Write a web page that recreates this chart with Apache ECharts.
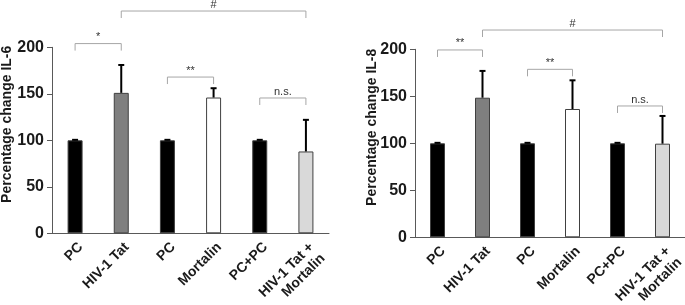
<!DOCTYPE html>
<html>
<head>
<meta charset="utf-8">
<script src="https://cdn.jsdelivr.net/npm/echarts@6/dist/echarts.min.js"></script>
<style>
  html, body { margin: 0; padding: 0; background: #fff; }
  #chart { width: 685px; height: 305px; }
</style>
</head>
<body>
<div id="chart"></div>
<script>
// categories, shared by both panels
var categories = ['PC', 'HIV-1 Tat', 'PC', 'Mortalin', 'PC+PC', 'HIV-1 Tat +\nMortalin'];
var barColors = ['#000000', '#7f7f7f', '#000000', '#ffffff', '#000000', '#d9d9d9'];

// IL-6 panel
var il6Values = [100, 151, 100, 146, 100, 88];
var il6Err = [0.5, 30, 0.5, 10, 0.5, 34];
// [from, to, level, label]
var il6Brackets = [[1, 5, 239, '#'], [0, 1, 204, '*'], [2, 3, 168, '**'], [4, 5, 145.5, 'n.s.']];

// IL-8 panel
var il8Values = [100, 148.5, 100, 136.5, 100, 99.6];
var il8Err = [0.5, 28.5, 0.5, 30.5, 0.5, 29.5];
var il8Brackets = [[1, 5, 220.5, '#'], [0, 1, 199.3, '**'], [2, 3, 178.7, '**'], [4, 5, 139.7, 'n.s.']];

var yTicks = [0, 50, 100, 150, 200];

var fontFam = 'Arial, Liberation Sans, sans-serif';

function barData(values) {
  return values.map(function (v, i) {
    return { value: v, itemStyle: { color: barColors[i] } };
  });
}

function errData(values, errs) {
  return values.map(function (v, i) { return [i, v, v + errs[i]]; });
}

function renderErr(params, api) {
  var base = api.coord([api.value(0), api.value(1)]);
  var top = api.coord([api.value(0), api.value(2)]);
  return {
    type: 'group',
    children: [
      { type: 'line', shape: { x1: base[0], y1: base[1], x2: top[0], y2: top[1] },
        style: { stroke: '#000', lineWidth: 2 } },
      { type: 'line', shape: { x1: top[0] - 3, y1: top[1], x2: top[0] + 3, y2: top[1] },
        style: { stroke: '#000', lineWidth: 2 } }
    ]
  };
}

function makeBracketRender(list) {
  return function (params, api) {
    var p1 = api.coord([api.value(0), api.value(2)]);
    var p2 = api.coord([api.value(1), api.value(2)]);
    var drop = 7;
    var st = { stroke: '#a6a6a6', lineWidth: 1, fill: null };
    return {
      type: 'group',
      children: [
        { type: 'polyline', shape: { points: [[p1[0], p1[1] + drop], [p1[0], p1[1]], [p2[0], p1[1]], [p2[0], p2[1] + drop]] },
          style: st },
        { type: 'text', x: (p1[0] + p2[0]) / 2, y: p1[1] - 1,
          style: { text: list[params.dataIndex][3], fill: '#333', font: '11px ' + fontFam,
            align: 'center', verticalAlign: 'bottom' } }
      ]
    };
  };
}

function bracketData(list) {
  return list.map(function (b) { return [b[0], b[1], b[2]]; });
}

function xAxisCfg(gridIndex) {
  return {
    type: 'category', gridIndex: gridIndex, data: categories,
    axisLine: { lineStyle: { color: '#595959', width: 1 } },
    axisTick: { show: false },
    axisLabel: { rotate: 45, interval: 0, margin: 6, color: '#1a1a1a',
      fontFamily: fontFam, fontWeight: 700, fontSize: 14, lineHeight: 16,
      verticalAlign: 'top' }
  };
}

function yAxisCfg(gridIndex, name, gap) {
  return {
    type: 'value', gridIndex: gridIndex, min: 0, max: 200, interval: 50,
    name: name, nameLocation: 'middle', nameGap: gap, nameMoveOverlap: false,
    nameTextStyle: { color: '#1a1a1a', fontFamily: fontFam, fontSize: 14, fontWeight: 700,
      padding: [0, 0, 0, 32] },
    axisLine: { show: true, lineStyle: { color: '#595959', width: 1 } },
    axisTick: { show: true, inside: false, length: 5, lineStyle: { color: '#595959' } },
    splitLine: { show: false },
    axisLabel: { color: '#1a1a1a', fontFamily: fontFam, fontWeight: 700, fontSize: 16, margin: 8,
      formatter: function (v) { return yTicks.indexOf(v) >= 0 ? String(v) : ''; } }
  };
}

var option = {
  animation: false,
  backgroundColor: '#fff',
  grid: [
    { left: 52, top: 47.3, width: 277, height: 186, containLabel: false, outerBoundsMode: 'none' },
    { left: 415, top: 49.3, width: 270, height: 188, containLabel: false, outerBoundsMode: 'none' }
  ],
  xAxis: [xAxisCfg(0), xAxisCfg(1)],
  yAxis: [yAxisCfg(0, 'Percentage change IL-6', 38), yAxisCfg(1, 'Percentage change IL-8', 36)],
  series: [
    { type: 'bar', xAxisIndex: 0, yAxisIndex: 0, barWidth: 15, data: barData(il6Values),
      itemStyle: { borderColor: '#404040', borderWidth: 1 } },
    { type: 'custom', xAxisIndex: 0, yAxisIndex: 0, data: errData(il6Values, il6Err),
      renderItem: renderErr, encode: { x: 0, y: 2 }, z: 3 },
    { type: 'custom', xAxisIndex: 0, yAxisIndex: 0, data: bracketData(il6Brackets), clip: false,
      renderItem: makeBracketRender(il6Brackets), encode: { x: 0, y: 2 }, z: 4 },

    { type: 'bar', xAxisIndex: 1, yAxisIndex: 1, barWidth: 15, data: barData(il8Values),
      itemStyle: { borderColor: '#404040', borderWidth: 1 } },
    { type: 'custom', xAxisIndex: 1, yAxisIndex: 1, data: errData(il8Values, il8Err),
      renderItem: renderErr, encode: { x: 0, y: 2 }, z: 3 },
    { type: 'custom', xAxisIndex: 1, yAxisIndex: 1, data: bracketData(il8Brackets), clip: false,
      renderItem: makeBracketRender(il8Brackets), encode: { x: 0, y: 2 }, z: 4 }
  ]
};

var chart = echarts.init(document.getElementById('chart'), null, { renderer: 'canvas' });
chart.setOption(option);
</script>
</body>
</html>
